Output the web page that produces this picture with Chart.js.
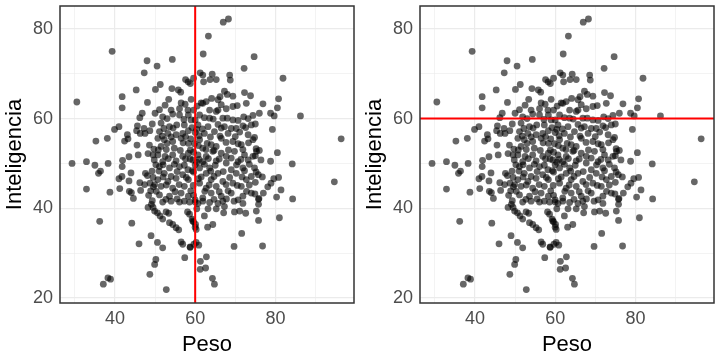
<!DOCTYPE html>
<html><head><meta charset="utf-8">
<script src="https://cdn.jsdelivr.net/npm/chart.js@4"></script>
<style>
body{margin:0;background:#fff}
#wrap{display:flex;width:720px;height:360px}
canvas{display:block}
</style>
</head><body>
<div id="wrap"><canvas id="c1" width="360" height="360"></canvas><canvas id="c2" width="360" height="360"></canvas></div>
<script>
const peso = [
39.3,48.0,50.5,47.3,45.3,50.1,41.8,30.5,48.1,
67.0,68.3,63.3,62.0,74.7,54.3,72.2,61.25,61.9,64.25,68.6,57.6,58.25,58.8,59.6,62.1,63.7,65.25,68.75,51.3,54.2,55.8,56.4,53.4,59.0,67.3,68.0,69.4,66.2,72.3,73.8,64.1,65.7,62.75,61.5,56.5,
81.9,80.8,76.9,
41.8,46.2,46.8,50.0,41.0,39.9,45.6,47.25,48.7,49.3,45.4,46.3,47.5,43.1,43.25,42.4,38.1,35.25,45.5,48.6,49.7,49.5,48.25,45.8,43.5,41.9,49.8,50.2,29.3,32.9,35.0,38.3,41.8,41.75,44.0,36.4,35.9,41.0,43.5,47.6,48.1,49.25,49.5,46.2,47.4,48.75,49.9,48.9,49.6,41.2,43.6,44.1,46.4,48.4,32.9,38.75,44.6,49.3,
80.5,76.0,78.8,79.7,86.25,75.0,79.25,96.4,75.2,75.3,75.0,80.5,76.4,78.8,84.2,75.2,75.75,76.75,75.0,79.6,80.8,78.9,78.1,81.4,94.7,77.0,74.9,75.9,80.3,84.3,
36.2,44.2,48.25,49.1,49.9,50.6,49.5,49.0,46.0,50.6,50.2,49.9,48.7,38.25,38.9,37.1,
52.8,64.3,64.8,61.25,62.6,61.3,62.8,57.4,69.7,71.6,51.9,56.5,56.9,58.75,60.25,60.9,59.7,64.4,63.1,60.1,60.25,59.4,55.9,55.25,54.4,53.6,51.9,51.25,52.75,53.4,58.1,58.6,59.25,62.3,63.2,65.25,67.3,67.1,69.8,71.1,72.6,75.25,71.9,69.7,66.9,65.7,63.6,61.9,60.7,58.6,57.3,56.1,54.0,51.9,
75.8,75.8,75.8,81.0,76.8,
51.1,54.0,56.1,58.2,61.9,63.6,65.7,67.75,69.4,72.75,
54.4,56.1,58.3,59.0,61.1,63.6,65.25,66.9,69.4,72.1,74.4,51.9,
51.5,53.6,55.4,57.3,60.7,63.2,65.7,67.3,70.25,71.9,74.0,51.1,53.2,55.25,56.9,58.3,62.3,64.8,68.2,71.1,73.2,
50.7,52.3,54.4,56.5,58.3,61.1,64.0,65.25,66.5,69.4,71.5,74.4,51.5,54.8,61.9,
50.7,52.5,54.4,56.9,58.3,60.7,62.75,64.4,66.5,67.75,69.8,72.3,74.4,51.9,55.25,59.4,61.9,65.25,70.7,73.2,
51.1,53.6,56.1,58.2,61.1,63.6,67.75,69.0,71.9,74.8,52.3,56.9,62.75,65.7,70.25,
50.7,53.2,55.25,58.3,61.1,64.0,66.9,69.4,72.75,51.5,54.4,57.3,62.75,65.25,71.5,
51.1,53.6,56.5,58.3,61.9,64.0,66.5,69.0,71.9,74.0,
59.6,60.0,60.4,58.9,60.0,60.8,59.6,58.75,60.4,59.6,60.8,59.6,60.0,60.4,59.6,60.0,58.75,
52.5,57.5,60.5,66.5,70.5,
53.0,57.2,62.3,64.5,68.0,70.7,73.2,
52.2,54.5,59.2,61.8,66.5,69.0,72.6,
51.8,54.0,57.6,61.0,63.8,66.2,70.0,74.8,
53.0,57.0,59.8,63.0,67.7,70.7,73.3,
50.8,52.8,56.3,58.8,62.7,64.7,68.3,71.9,76.0,
53.3,57.6,61.0,63.3,66.0,69.0,71.4,
52.0,54.8,57.3,60.0,62.3,65.0,70.3,73.5,
51.0,55.5,59.3,63.9,67.0,72.3,
52.0,54.0,57.8,61.5,64.7,68.6,71.7,74.0,
52.8,56.0,59.5,63.5,67.7,70.5,73.5,
50.3,55.0,58.9,62.4,66.0,68.2,72.8,
52.7,55.5,60.0,64.7,67.8,70.7
];
const inteligencia = [
75.0,72.9,71.7,70.2,66.4,66.5,64.9,63.7,63.6,
81.5,82.2,78.4,74.4,73.8,73.2,71.2,70.2,69.7,69.9,69.7,68.7,68.2,67.8,69.0,68.2,68.7,68.7,68.6,67.6,66.7,66.4,65.9,64.3,64.3,66.1,65.4,65.0,64.9,65.8,65.1,64.5,64.2,63.8,63.5,63.5,
69.0,64.4,63.3,
62.4,60.2,61.2,61.2,58.2,57.6,58.4,57.8,57.3,58.8,57.3,56.7,56.7,56.4,55.5,55.0,55.6,55.0,54.1,54.1,53.2,51.9,52.2,51.9,51.5,50.7,50.8,49.7,50.0,50.4,49.6,50.0,49.3,47.1,47.9,48.3,47.8,46.6,46.1,47.8,47.3,48.3,46.9,45.7,45.3,45.6,45.3,43.9,44.8,44.4,43.8,43.5,44.0,42.9,44.3,43.6,42.2,41.7,
62.4,61.2,61.2,60.6,60.6,58.8,57.6,55.5,53.3,52.7,51.7,52.4,50.8,50.5,49.9,48.1,47.5,47.0,45.8,46.6,46.9,45.6,44.8,44.1,45.9,43.4,43.2,42.2,42.5,42.1,
37.1,36.7,40.2,40.9,39.4,39.0,40.2,33.9,32.1,32.4,28.6,27.5,25.3,24.5,24.2,23.1,
21.9,24.4,23.1,26.4,26.7,28.2,29.2,29.0,31.5,34.4,31.2,32.5,32.0,31.3,32.4,31.8,32.0,36.4,35.8,36.4,35.3,37.2,35.2,35.7,36.4,36.8,37.6,38.3,39.2,38.9,39.2,38.7,37.6,38.3,39.9,39.9,40.4,39.0,39.2,39.4,38.9,39.4,41.1,41.6,41.6,41.1,41.3,41.6,41.1,41.4,41.6,41.4,41.6,41.4,
42.0,40.9,37.3,37.9,31.6,
62.0,61.9,62.2,61.9,63.4,61.9,61.9,62.2,62.7,63.4,
61.0,60.8,60.8,59.7,60.8,60.1,61.6,60.1,59.7,60.4,60.7,60.4,
59.0,58.2,58.6,58.6,58.6,58.2,58.7,58.2,57.8,58.4,58.6,57.1,56.7,56.4,56.7,57.3,56.7,57.1,56.7,57.0,56.4,
55.6,55.3,54.9,55.6,54.5,55.3,54.2,53.8,55.6,54.9,54.2,55.3,53.8,53.4,53.4,
51.9,51.6,51.9,51.6,52.3,51.9,51.6,52.7,52.3,51.6,52.7,51.9,51.6,50.4,50.6,50.8,50.4,50.6,50.4,50.8,
49.3,49.0,49.3,48.6,49.0,49.0,50.1,48.6,49.0,49.0,47.8,47.5,47.8,47.8,47.8,
46.4,46.0,46.7,46.4,45.6,46.4,46.0,45.6,46.4,44.9,44.5,44.9,44.5,44.9,44.9,
43.0,42.7,43.4,42.7,42.3,43.4,42.7,43.4,42.7,43.4,
61.9,59.7,57.6,55.5,56.9,54.0,52.5,51.0,50.3,48.1,46.6,42.9,41.4,39.9,37.0,35.8,31.4,
63.0,63.2,62.8,63.1,62.9,
60.0,59.8,60.2,59.9,60.1,59.6,60.0,
57.8,57.9,58.0,57.7,57.9,57.8,58.0,
56.1,55.9,56.0,56.2,55.9,56.1,56.0,55.8,
54.5,54.6,54.4,54.5,54.7,54.4,54.6,
53.0,53.1,52.9,53.0,53.1,52.9,53.0,53.1,52.9,
51.1,51.0,50.9,51.1,51.0,51.2,50.9,
49.7,49.8,49.6,49.7,49.8,49.6,49.7,49.8,
48.3,48.2,48.4,48.3,48.2,48.4,
47.0,47.1,46.9,47.0,47.1,46.9,47.0,47.1,
45.2,45.3,45.1,45.2,45.3,45.1,45.2,
43.8,43.7,43.9,43.8,43.7,43.9,43.8,
42.0,42.1,41.9,42.0,42.1,41.9
];
const xTicks = [30, 40, 50, 60, 70, 80, 90];
const xLabels = [40, 60, 80];
const yTicks = [20, 30, 40, 50, 60, 70, 80];
const yLabels = [20, 40, 60, 80];
const xRange = [26.3, 99.6];
const yRange = [18.9, 85.1];
const refValue = 60;

Chart.defaults.font.family = "'Liberation Sans', Arial, sans-serif";

const points = peso.map((p, i) => ({x: p, y: inteligencia[i]}));

const borderPlugin = {
  id: 'panelBorder',
  afterDraw(chart) {
    const a = chart.chartArea, ctx = chart.ctx;
    ctx.save();
    ctx.strokeStyle = '#333333';
    ctx.lineWidth = 1.5;
    ctx.strokeRect(a.left, a.top, a.right - a.left, a.bottom - a.top);
    ctx.restore();
  }
};

function makeChart(id, lineData) {
  return new Chart(document.getElementById(id), {
    type: 'scatter',
    data: {
      datasets: [
        {type: 'line', data: lineData, borderColor: '#ff0000', borderWidth: 2,
         pointRadius: 0, order: 0, clip: 0},
        {data: points, backgroundColor: 'rgba(0,0,0,0.6)', borderWidth: 0,
         pointRadius: 3.4, order: 1}
      ]
    },
    options: {
      responsive: false, animation: false,
      layout: {padding: {top: 6, right: 6, left: 0, bottom: 0}},
      plugins: {legend: {display: false}, tooltip: {enabled: false}},
      scales: {
        x: {
          type: 'linear', min: xRange[0], max: xRange[1],
          afterBuildTicks: s => { s.ticks = xTicks.map(v => ({value: v})); },
          afterFit: s => { s.height = 57; s.paddingLeft = 0; s.paddingRight = 0; },
          ticks: {callback: v => xLabels.includes(v) ? String(v) : '', color: '#4d4d4d',
                  font: {size: 18}, padding: 5, maxRotation: 0, autoSkip: false},
          grid: {color: '#ebebeb', lineWidth: c => (c.tick && xLabels.includes(c.tick.value)) ? 1.2 : 0.6,
                 drawTicks: false},
          border: {display: false},
          title: {display: true, text: 'Peso', color: '#000', font: {size: 22}, padding: {top: 0, bottom: 2}}
        },
        y: {
          type: 'linear', min: yRange[0], max: yRange[1],
          afterBuildTicks: s => { s.ticks = yTicks.map(v => ({value: v})); },
          afterFit: s => { s.width = 60; s.paddingTop = 0; s.paddingBottom = 0; },
          ticks: {callback: v => yLabels.includes(v) ? String(v) : '', color: '#4d4d4d',
                  font: {size: 18}, padding: 7, autoSkip: false},
          grid: {color: '#ebebeb', lineWidth: c => (c.tick && yLabels.includes(c.tick.value)) ? 1.2 : 0.6,
                 drawTicks: false},
          border: {display: false},
          title: {display: true, text: 'Inteligencia', color: '#000', font: {size: 22}, padding: {top: 2, bottom: 0}}
        }
      }
    },
    plugins: [borderPlugin]
  });
}

makeChart('c1', [{x: refValue, y: yRange[0]}, {x: refValue, y: yRange[1]}]);
makeChart('c2', [{x: xRange[0], y: refValue}, {x: xRange[1], y: refValue}]);
</script>
</body></html>
